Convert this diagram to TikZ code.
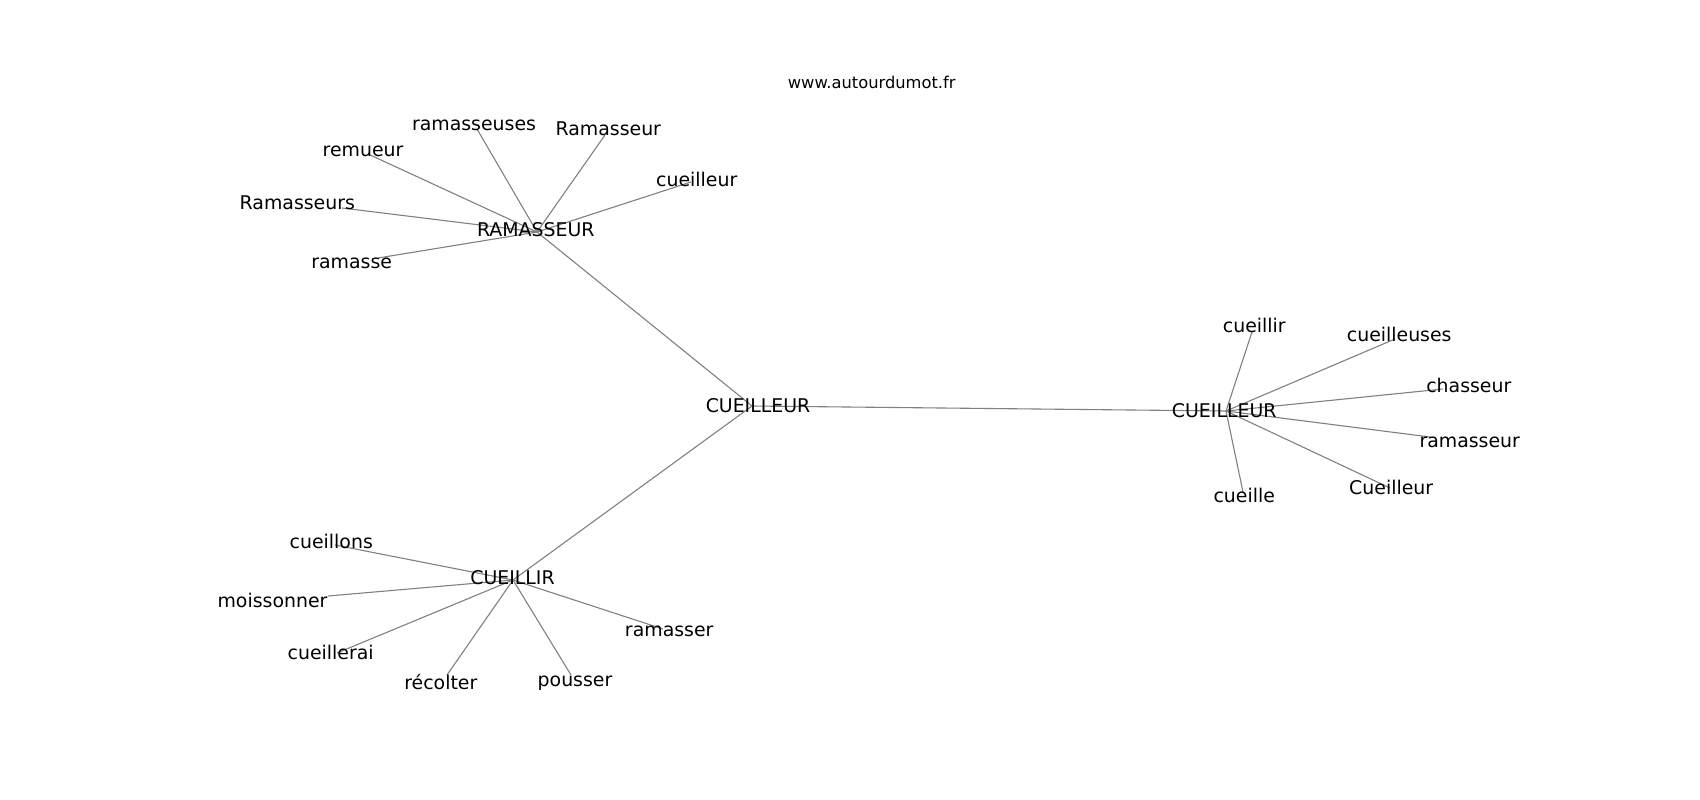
\documentclass[tikz,border=0pt]{standalone}
\usepackage{fontspec}
\setmainfont{DejaVu Sans}
\begin{document}
\begin{tikzpicture}[x=1pt,y=-1pt,
  word/.style={anchor=base,inner sep=0pt,font=\fontsize{18.9}{22}\selectfont},
  edge/.style={black!50,line width=1.1pt}]
\useasboundingbox (0,0) rectangle (1700,800);
%hub points
\coordinate (c0) at (752,406);
\coordinate (r0) at (537,232);
\coordinate (l0) at (513,580);
\coordinate (d0) at (1226,411);
%points round RAMASSEUR
\coordinate (r1) at (477,129);
\coordinate (r2) at (605,135);
\coordinate (r3) at (368,154);
\coordinate (r4) at (691,182);
\coordinate (r5) at (342,208);
\coordinate (r6) at (378,258);
%points round CUEILLIR
\coordinate (l1) at (335,545);
\coordinate (l2) at (328,596);
\coordinate (l3) at (337,653);
\coordinate (l4) at (447,675);
\coordinate (l5) at (571,675);
\coordinate (l6) at (663,629);
%points round CUEILLEUR
\coordinate (d1) at (1252,332);
\coordinate (d2) at (1395,339);
\coordinate (d3) at (1443,389);
\coordinate (d4) at (1430,437);
\coordinate (d5) at (1390,488);
\coordinate (d6) at (1243,492);
%edges
\draw[edge] (c0)--(r0);
\draw[edge] (c0)--(l0);
\draw[edge] (c0)--(d0);
\foreach \h in {r,l,d}
  \foreach \i in {1,...,6}
    \draw[edge] (\h0)--(\h\i);
%title
\node[anchor=base,inner sep=0pt,font=\fontsize{16.3}{20}\selectfont] (title) at (871.7,88.3) {www.autourdumot.fr};
%hub words
\node[word] (tc0) at (758,412.7) {CUEILLEUR};
\node[word] (tr0) at (535.8,236.7) {RAMASSEUR};
\node[word] (tl0) at (512.5,584) {CUEILLIR};
\node[word] (td0) at (1224.2,417.3) {CUEILLEUR};
%words round RAMASSEUR
\node[word] (tr1) at (474,130.7) {ramasseuses};
\node[word] (tr2) at (608.3,135) {Ramasseur};
\node[word] (tr3) at (363,156.7) {remueur};
\node[word] (tr4) at (696.7,186) {cueilleur};
\node[word] (tr5) at (297.3,209) {Ramasseurs};
\node[word] (tr6) at (351.7,268.3) {ramasse};
%words round CUEILLIR
\node[word] (tl1) at (331.3,548.3) {cueillons};
\node[word] (tl2) at (272.5,607) {moissonner};
\node[word] (tl3) at (330.7,659.3) {cueillerai};
\node[word] (tl4) at (440.8,689.3) {récolter};
\node[word] (tl5) at (575,686.7) {pousser};
\node[word] (tl6) at (669.2,636.7) {ramasser};
%words round CUEILLEUR
\node[word] (td1) at (1254.3,332.3) {cueillir};
\node[word] (td2) at (1399.2,341.7) {cueilleuses};
\node[word] (td3) at (1468.8,392.3) {chasseur};
\node[word] (td4) at (1469.7,447.7) {ramasseur};
\node[word] (td5) at (1391.2,494.3) {Cueilleur};
\node[word] (td6) at (1244.2,502.7) {cueille};
\end{tikzpicture}
\end{document}
